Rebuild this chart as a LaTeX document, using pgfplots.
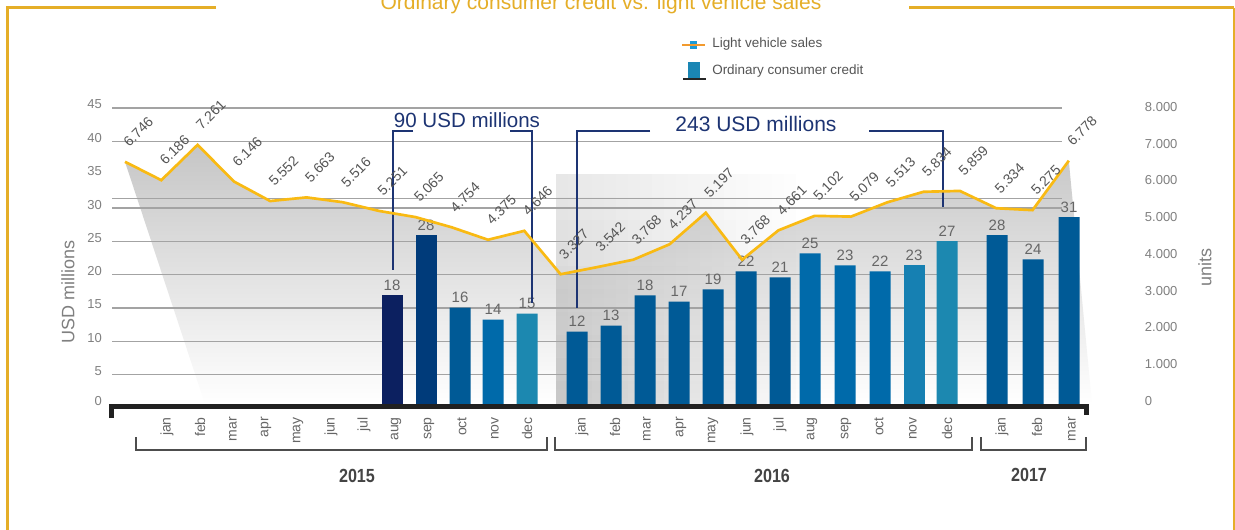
\documentclass[border=0pt]{standalone}
\usepackage{fontspec}
\setmainfont{Liberation Sans}
\usepackage{pgfplots}
\pgfplotsset{compat=1.18}
\definecolor{gold}{HTML}{E5AE28}
\definecolor{lineY}{HTML}{F9BA13}
\definecolor{navy}{HTML}{1D3473}
\definecolor{tickc}{HTML}{808080}
\definecolor{lab}{HTML}{666666}
\definecolor{linelab}{HTML}{555555}
\definecolor{gridc}{HTML}{A3A3A3}
\definecolor{brk}{HTML}{4D4D4D}
\definecolor{yr}{HTML}{444444}
\definecolor{bA}{HTML}{0C2060}
\definecolor{bB}{HTML}{003B7A}
\definecolor{bC}{HTML}{005A96}
\definecolor{bD}{HTML}{006AAA}
\definecolor{bE}{HTML}{1680B2}
\definecolor{bF}{HTML}{1C88B0}
\definecolor{legorange}{HTML}{F29A2E}
\definecolor{legblue}{HTML}{1B9BD7}
\definecolor{legbar}{HTML}{1A86B4}
\pgfplotsset{
  pxaxis/.style={scale only axis, anchor=south west, width=735pt, xmin=110, xmax=1090},
  lineaxis/.style={pxaxis, at={(82.5pt,-303pt)}, height=212.625pt, ymin=-617, ymax=8000, hide axis, clip=false},
}
\begin{document}
\begin{tikzpicture}
\path[use as bounding box] (0,0) rectangle (926.25pt,-396.75pt);
\clip (0,0) rectangle (926.25pt,-396.75pt);
\fill[white] (0,0) rectangle (926.25pt,-396.75pt);

% shaded area under the line
\begin{axis}[lineaxis]
\addplot[draw=none, top color=gray!45, bottom color=white] coordinates {
(125.0,6746) (161.3,6186) (197.6,7261) (233.9,6146) (270.2,5552) (306.5,5663)
(342.8,5516) (379.1,5251) (415.4,5065) (451.7,4754) (488.0,4375) (524.3,4646)
(560.6,3327) (596.9,3542) (633.2,3768) (669.5,4237) (705.8,5197) (742.1,3768)
(778.4,4661) (814.7,5102) (851.0,5079) (887.3,5513) (923.6,5834) (959.9,5859)
(996.2,5334) (1032.5,5275) (1068.8,6778) (1092,-617) (205,-617)} -- cycle;
\end{axis}

% 2016 panel: translucent cells, darker at bottom-left, fading to the right
\foreach \i in {0,...,19}{
  \foreach \j in {0,...,9}{
    \pgfmathsetmacro{\xa}{0.75*(556+12*\i)}
    \pgfmathsetmacro{\xb}{0.75*(568+12*\i)}
    \pgfmathsetmacro{\ya}{-0.75*(174+23*\j)}
    \pgfmathsetmacro{\yb}{-0.75*(197+23*\j)}
    \pgfmathsetmacro{\op}{(0.3+0.4*\j/9)*(1-\i/20)}
    \fill[gray!60, fill opacity=\op] (\xa pt,\ya pt) rectangle (\xb pt,\yb pt);
  }
}

% left ticks and grid
\begin{axis}[scale only axis, anchor=south west, at={(84pt,-306pt)}, width=712.5pt, height=225pt,
  xmin=0, xmax=1, ymin=0, ymax=45, xtick=\empty, axis line style={draw=none}, major tick length=0pt,
  ytick={0,5,...,45}, yticklabels={\raisebox{4.9pt}{0},5,10,15,20,25,30,35,40,45},
  yticklabel style={anchor=east, inner sep=0pt, xshift=-7.5pt, yshift=2.6pt, font=\fontsize{9.75}{10}\selectfont, text=tickc},
  extra y ticks={5,10,15,20,25,30,31.45,40,45}, extra y tick labels={},
  extra y tick style={grid=major},
  major grid style={draw=gridc, line width=0.8pt}]
\end{axis}

% bars
\begin{axis}[pxaxis, at={(82.5pt,-303pt)}, height=203.5pt, ymin=0, ymax=45,
  axis line style={draw=none}, major tick length=0pt, ytick=\empty,
  ybar, bar width=15.75pt, bar shift=0pt, clip=false,
  /pgf/number format/assume math mode=true,
  xtick={167,200,233,266,298,331,364,396,429,462,495,527,582,615,647,681,713,747,780,812,846,879,913,947,1002,1037,1072},
  xticklabels={jan,feb,mar,apr,may,jun,jul,aug,sep,oct,nov,dec,jan,feb,mar,apr,may,jun,jul,aug,sep,oct,nov,dec,jan,feb,mar},
  xticklabel style={yshift=-9.75pt, rotate=90, anchor=east, inner sep=0pt, font=\fontsize{10.5}{11}\selectfont, text=lab},
  nodes near coords,
  every node near coord/.append style={anchor=south, inner sep=0pt, yshift=3.5pt, font=\fontsize{11.25}{12}\selectfont, text=lab}]
\addplot[fill=bA, draw=none] coordinates {(392,18)};
\addplot[fill=bB, draw=none] coordinates {(426,28)};
\addplot[fill=bC, draw=none] coordinates {(460,16) (577,12) (611,13) (645,18) (679,17) (713,19) (746,22) (780,21) (997,28) (1033,24) (1069,31)};
\addplot[fill=bD, draw=none] coordinates {(493,14) (810,25) (845,23) (880,22)};
\addplot[fill=bE, draw=none] coordinates {(914,23)};
\addplot[fill=bF, draw=none] coordinates {(527,15) (947,27)};
\end{axis}

\begin{scope}[x=0.75pt, y=-0.75pt]
% black base
\draw[black!87, line width=3.75pt, line join=miter, line cap=butt] (111.5,418) -- (111.5,406.5) -- (1086.5,406.5) -- (1086.5,415);
% annotations
\draw[navy, line width=1.1pt] (413,131) -- (393,131) -- (393,270);
\draw[navy, line width=1.1pt] (510,131) -- (532,131) -- (532,303);
\draw[navy, line width=1.1pt] (650,131) -- (577,131) -- (577,308);
\draw[navy, line width=1.1pt] (869,131) -- (943,131) -- (943,207);
\node[text=navy, font=\fontsize{15.4}{16}\selectfont, inner sep=0pt] at (467,120) {90 USD millions};
\node[text=navy, font=\fontsize{15.75}{16}\selectfont, inner sep=0pt] at (756,123.5) {243 USD millions};
\end{scope}

% line
\begin{axis}[lineaxis, /pgf/number format/assume math mode=true, /pgf/number format/1000 sep={.}]
\addplot[lineY, line width=2pt, mark=none, nodes near coords,
  every node near coord/.append style={anchor=west, inner sep=0pt, yshift=12.5pt, rotate=45, font=\fontsize{10.5}{11}\selectfont, text=linelab}]
coordinates {
(125.0,6746) (161.3,6186) (197.6,7261) (233.9,6146) (270.2,5552) (306.5,5663)
(342.8,5516) (379.1,5251) (415.4,5065) (451.7,4754) (488.0,4375) (524.3,4646)
(560.6,3327) (596.9,3542) (633.2,3768) (669.5,4237) (705.8,5197) (742.1,3768)
(778.4,4661) (814.7,5102) (851.0,5079) (887.3,5513) (923.6,5834) (959.9,5859)
(996.2,5334) (1032.5,5275) (1068.8,6778)};
\end{axis}

% right ticks
\begin{axis}[scale only axis, anchor=south west, at={(82.5pt,-300.75pt)}, width=774pt, height=220.5pt,
  xmin=0, xmax=1, ymin=0, ymax=8000, xtick=\empty, axis line style={draw=none}, major tick length=0pt,
  ytick={0,1000,...,8000}, scaled y ticks=false, yticklabel pos=right,
  /pgf/number format/assume math mode=true, /pgf/number format/1000 sep={.},
  yticklabel style={anchor=west, inner sep=0pt, xshift=2pt, font=\fontsize{9.75}{10}\selectfont, text=tickc}]
\end{axis}

\begin{scope}[x=0.75pt, y=-0.75pt]
% frame
\draw[gold, line width=2.25pt] (216,7.5) -- (7.5,7.5) -- (7.5,540);
\draw[gold, line width=2.25pt] (909,7.5) -- (1234,7.5);
\draw[gold, line width=1.1pt] (1233.8,7.5) -- (1233.8,540);
\node[anchor=base, text=gold, font=\fontsize{15.75}{16}\selectfont, inner sep=0pt] at (601,9.5) {Ordinary consumer credit vs. light vehicle sales};
% legend
\fill[legblue] (690,41) rectangle (697,49);
\draw[legorange, line width=1.9pt] (682,45) -- (705,45);
\node[anchor=west, text=linelab, font=\fontsize{10.1}{11}\selectfont, inner sep=0pt] at (712,44) {Light vehicle sales};
\fill[legbar] (688,62) rectangle (700,77.5);
\draw[black!85, line width=1.5pt] (683,78.5) -- (706,78.5);
\node[anchor=west, text=linelab, font=\fontsize{10.1}{11}\selectfont, inner sep=0pt] at (712,71) {Ordinary consumer credit};
% brackets
\draw[brk, line width=1pt] (136,437) -- (136,450) -- (547,450) -- (547,437);
\draw[brk, line width=1pt] (555,437) -- (555,450) -- (972,450) -- (972,437);
\draw[brk, line width=1pt] (981,437) -- (981,450) -- (1086,450) -- (1086,437);
\node[text=yr, font=\bfseries\fontsize{14.25}{15}\selectfont, xscale=0.85] at (357,476) {2015};
\node[text=yr, font=\bfseries\fontsize{14.25}{15}\selectfont, xscale=0.85] at (772,476) {2016};
\node[text=yr, font=\bfseries\fontsize{14.25}{15}\selectfont, xscale=0.85] at (1029,475) {2017};
% axis titles
\node[rotate=90, text=tickc, font=\fontsize{13.5}{14}\selectfont] at (68,292) {USD millions};
\node[rotate=90, text=tickc, font=\fontsize{13.5}{14}\selectfont] at (1205,267) {units};
\end{scope}
\end{tikzpicture}
\end{document}
